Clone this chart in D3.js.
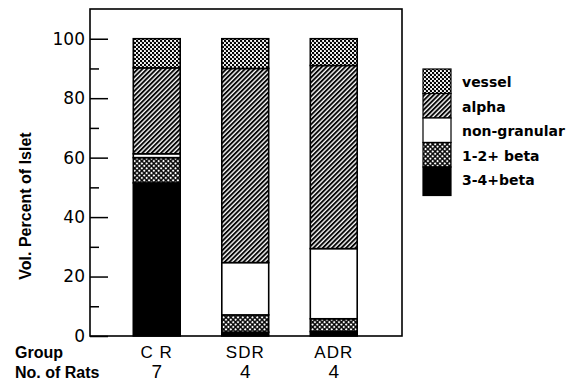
<!DOCTYPE html>
<html>
<head>
<meta charset="utf-8">
<script src="https://cdn.jsdelivr.net/npm/d3@7"></script>
<style>
  body { margin: 0; background: #fff; }
</style>
</head>
<body>
<div id="chart"></div>
<script>
// data
var groups = ["CR", "SDR", "ADR"]
var groupLabels = ["C R", "SDR", "ADR"]
var nRats = ["7", "4", "4"]
// stacked from the bottom up
var components = ["beta34", "beta12", "nongran", "alpha", "vessel"]
var beta34 = [51.5, 1.3, 1.5]
var beta12 = [8.5, 5.8, 4.3]
var nongran = [1.3, 17.6, 23.6]
var alpha = [28.9, 65.3, 61.6]
var vessel = [9.8, 10.0, 9.0]
var majorTicks = [0, 20, 40, 60, 80, 100]
var minorTicks = [10, 30, 50, 70, 90]
// legend, top to bottom
var legendKeys = ["vessel", "alpha", "nongran", "beta12", "beta34"]
var legendLabels = ["vessel", "alpha", "non-granular", "1-2+ beta", "3-4+beta"]

const W = 572, H = 386
const plotL = 90, plotR = 402, plotT = 9, plotB = 336

var svg = d3.select("#chart").append("svg")
    .attr("width", W).attr("height", H)

var defs = svg.append("defs")

// vessel: dotted
var p = defs.append("pattern").attr("id", "vessel")
    .attr("patternUnits", "userSpaceOnUse").attr("width", 4).attr("height", 4)
p.append("rect").attr("width", 4).attr("height", 4).attr("fill", "#fff")
p.append("circle").attr("cx", 1).attr("cy", 1).attr("r", 1.25).attr("fill", "#000")
p.append("circle").attr("cx", 3).attr("cy", 3).attr("r", 1.25).attr("fill", "#000")

// alpha: diagonal hatch
p = defs.append("pattern").attr("id", "alpha")
    .attr("patternUnits", "userSpaceOnUse").attr("width", 3.3).attr("height", 10)
    .attr("patternTransform", "rotate(45)")
p.append("rect").attr("width", 3.3).attr("height", 10).attr("fill", "#fff")
p.append("line").attr("x1", 1).attr("x2", 1).attr("y1", 0).attr("y2", 10)
    .attr("stroke", "#000").attr("stroke-width", 1.9)

// 1-2+ beta: crosshatch
p = defs.append("pattern").attr("id", "beta12")
    .attr("patternUnits", "userSpaceOnUse").attr("width", 3.4).attr("height", 3.4)
    .attr("patternTransform", "rotate(45)")
p.append("rect").attr("width", 3.4).attr("height", 3.4).attr("fill", "#000")
p.append("rect").attr("x", 0.7).attr("y", 0.7).attr("width", 2).attr("height", 2).attr("fill", "#fff")

var fills = {
    vessel: "url(#vessel)",
    alpha: "url(#alpha)",
    nongran: "#fff",
    beta12: "url(#beta12)",
    beta34: "#000"
}
var series = { beta34: beta34, beta12: beta12, nongran: nongran, alpha: alpha, vessel: vessel }

var x = d3.scaleBand()
    .domain(groups)
    .range([112.5, 378])
    .paddingInner(0.47)
    .paddingOuter(0.235)

var y = d3.scaleLinear()
    .domain([0, 110])
    .range([plotB, plotT])

// table for the stack
var table = groups.map((g, i) => {
    var row = { group: g }
    components.forEach(c => row[c] = series[c][i])
    return row
})
var stacked = d3.stack().keys(components)(table)

svg.append("g")
    .selectAll("g")
    .data(stacked)
    .enter()
    .append("g")
    .attr("fill", d => fills[d.key])
    .selectAll("rect")
    .data(d => d)
    .enter()
    .append("rect")
    .attr("x", d => x(d.data.group))
    .attr("y", d => y(d[1]))
    .attr("width", x.bandwidth())
    .attr("height", d => y(d[0]) - y(d[1]))
    .attr("stroke", "#000")
    .attr("stroke-width", 1.6)

// frame
svg.append("rect")
    .attr("x", plotL).attr("y", plotT)
    .attr("width", plotR - plotL).attr("height", plotB - plotT)
    .attr("fill", "none").attr("stroke", "#000").attr("stroke-width", 1.6)

// y axis, ticks pointing inward
var yAxis = svg.append("g")
    .attr("transform", "translate(" + plotL + ",0)")
    .call(d3.axisLeft(y).tickValues(majorTicks).tickSize(-18).tickPadding(5))
yAxis.select(".domain").remove()
yAxis.selectAll("line").attr("stroke-width", 1.5)
yAxis.selectAll("text")
    .style("font-family", "DejaVu Sans")
    .style("font-size", "17px")
    .attr("fill", "#000")

var yMinor = svg.append("g")
    .attr("transform", "translate(" + plotL + ",0)")
    .call(d3.axisLeft(y).tickValues(minorTicks).tickSize(-9).tickFormat(""))
yMinor.select(".domain").remove()
yMinor.selectAll("line").attr("stroke-width", 1.5)

// y title
svg.append("text")
    .attr("transform", "translate(31,206) rotate(-90)")
    .attr("text-anchor", "middle")
    .style("font-family", "Liberation Sans")
    .style("font-weight", "bold")
    .style("font-size", "16px")
    .text("Vol. Percent of Islet")

// category labels and rat counts
svg.append("g").selectAll("text")
    .data(groups)
    .enter()
    .append("text")
    .attr("x", d => x(d) + x.bandwidth() / 2)
    .attr("y", 358)
    .attr("text-anchor", "middle")
    .style("font-family", "Liberation Sans")
    .style("font-size", "17px")
    .style("letter-spacing", "1px")
    .text((d, i) => groupLabels[i])

svg.append("g").selectAll("text")
    .data(groups)
    .enter()
    .append("text")
    .attr("x", d => x(d) + x.bandwidth() / 2)
    .attr("y", 378)
    .attr("text-anchor", "middle")
    .style("font-family", "Liberation Sans")
    .style("font-size", "19px")
    .text((d, i) => nRats[i])

svg.append("text")
    .attr("x", 15).attr("y", 358)
    .style("font-family", "Liberation Sans")
    .style("font-weight", "bold")
    .style("font-size", "16px")
    .text("Group")

svg.append("text")
    .attr("x", 15).attr("y", 378)
    .style("font-family", "Liberation Sans")
    .style("font-weight", "bold")
    .style("font-size", "16px")
    .text("No. of Rats")

// legend
var rowH = 24.5, legTop = 69, legX = 423, swW = 28
var leg = svg.append("g")
leg.selectAll("rect")
    .data(legendKeys)
    .enter()
    .append("rect")
    .attr("x", legX)
    .attr("y", (d, i) => legTop + i * rowH)
    .attr("width", swW)
    .attr("height", (d, i) => i == legendKeys.length - 1 ? rowH + 4 : rowH)
    .attr("fill", d => fills[d])
    .attr("stroke", "#000")
    .attr("stroke-width", 1.2)

leg.selectAll("text")
    .data(legendLabels)
    .enter()
    .append("text")
    .attr("x", 462)
    .attr("y", (d, i) => legTop + i * rowH + rowH / 2 + 2)
    .attr("dominant-baseline", "middle")
    .style("font-family", "DejaVu Sans")
    .style("font-weight", "bold")
    .style("font-size", "14px")
    .text(d => d)
</script>
</body>
</html>
